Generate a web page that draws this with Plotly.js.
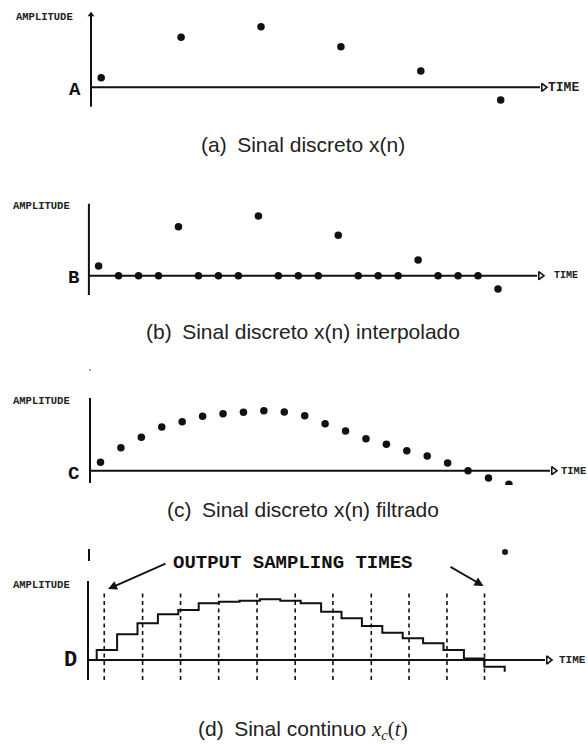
<!DOCTYPE html>
<html>
<head>
<meta charset="utf-8">
<script src="https://cdn.plot.ly/plotly-3.0.1.min.js"></script>
<style>html,body{margin:0;padding:0;background:#fff;}#chart{width:588px;height:744px;}</style>
</head>
<body>
<div id="chart"></div>
<script>
// ---- data (amplitudes in arbitrary units) ----
const aIndex = [0, 1, 2, 3, 4, 5];
const aValues = [9.6, 50, 60.6, 40.6, 16.3, -12.7];

const bIndex = [0,1,2,3,4,5,6,7,8,9,10,11,12,13,14,15,16,17,18,19,20];
const bValues = [9.7,0,0,0,49,0,0,0,59.7,0,0,0,40.4,0,0,0,15.7,0,0,0,-13.3];

const cIndex = [0,1,2,3,4,5,6,7,8,9,10,11,12,13,14,15,16,17,18,19,20];
const cValues = [8.4, 23, 33.4, 43.7, 49, 54.4, 57, 58.4, 60, 58.7, 55, 47, 39.7, 32, 26.4, 20, 14.7, 7.7, 0, -7.3, -13.5];

const dStepStart = [0,1,2,3,4,5,6,7,8,9,10,11,12,13,14,15,16,17,18,19,20];
const dSteps = [10, 25.7, 36.7, 45.7, 50, 56.7, 58.3, 59.3, 60.7, 59.3, 56.7, 48.3, 41.7, 34, 27.3, 21.7, 16.7, 10, 1.5, -6.7, -11.7];
const outputTimes = [0.37, 2.25, 4.11, 5.98, 7.86, 9.73, 11.58, 13.46, 15.31, 17.17, 19.01];

const captions = [
  '(a)\u2002Sinal discreto x(n)',
  '(b)\u2002Sinal discreto x(n) interpolado',
  '(c)\u2002Sinal discreto x(n) filtrado',
  '(d)\u2002Sinal continuo <span style="font-family:Liberation Serif"><i>x</i><sub><i>c</i></sub>(<i>t</i>)</span>'
];
const panelLetters = ['A', 'B', 'C', 'D'];

// ---- layout geometry (pixels) ----
const W = 588, H = 744;
const fx = px => px / W;
const fy = py => 1 - py / H;

const panels = [
  {ax:'x',  ay:'y',  axisX:91,   axisY:87.3,  top:0,   bot:120, vTop:11.7,  vBot:106.7, hEnd:540, t0:101.2, ts:79.9,
   amp:[14,16.7], letter:[75,90], letterSize:19, time:[546,87.3], timeSize:13, cap:145},
  {ax:'x2', ay:'y2', axisX:88.9, axisY:275.7, top:190, bot:305, vTop:200.7, vBot:295,   hEnd:537, t0:98.6,  ts:19.97,
   amp:[10.5,206], letter:[73,278], letterSize:19, time:[552,275.7], timeSize:10, cap:331.7},
  {ax:'x3', ay:'y3', axisX:90,   axisY:470.7, top:385, bot:485, vTop:395,   vBot:483,   hEnd:550, t0:100.5, ts:20.42,
   amp:[11,400.7], letter:[73,474], letterSize:19, time:[559,470.7], timeSize:10.5, cap:510},
  {ax:'x4', ay:'y4', axisX:88,   axisY:660,   top:540, bot:700, vTop:578,   vBot:680,   hEnd:545, t0:96.7,  ts:20.4,
   amp:[11,585], letter:[70,660], letterSize:22, time:[557,660], timeSize:11, cap:730}
];

const ink = '#111';
const traces = [];
const shapes = [];
const annotations = [];
const layout = {
  width: W, height: H,
  margin: {l:0, r:0, t:0, b:0},
  paper_bgcolor: '#fff', plot_bgcolor: 'rgba(0,0,0,0)',
  showlegend: false,
  font: {family: 'Liberation Sans', color: ink}
};

panels.forEach((p, i) => {
  const xn = i === 0 ? 'xaxis' : 'xaxis' + (i + 1);
  const yn = i === 0 ? 'yaxis' : 'yaxis' + (i + 1);
  layout[xn] = {visible:false, domain:[0,1], range:[(0 - p.t0) / p.ts, (W - p.t0) / p.ts], anchor:p.ay, fixedrange:true};
  layout[yn] = {visible:false, domain:[fy(p.bot), fy(p.top)], range:[-(p.bot - p.axisY), p.axisY - p.top], anchor:p.ax, fixedrange:true};

  // horizontal time axis at amplitude 0
  shapes.push({type:'line', xref:'paper', yref:p.ay, x0:fx(p.axisX), x1:fx(p.hEnd), y0:0, y1:0, line:{color:ink, width:2}});
  // vertical amplitude axis
  shapes.push({type:'line', xref:'paper', yref:'paper', x0:fx(p.axisX), x1:fx(p.axisX), y0:fy(p.vBot), y1:fy(p.vTop + 3), line:{color:ink, width:2}});
  // arrowheads
  traces.push({type:'scatter', mode:'markers', xaxis:p.ax, yaxis:p.ay, cliponaxis:false, hoverinfo:'skip',
    x:[(p.hEnd + 3.5 - p.t0) / p.ts], y:[0],
    marker:{symbol:'triangle-right-open', size:7, color:ink, line:{width:1.6, color:ink}}});
  traces.push({type:'scatter', mode:'markers', xaxis:'x', yaxis:'y', cliponaxis:false, hoverinfo:'skip',
    x:[(p.axisX - 101.2) / 79.9], y:[87.3 - (p.vTop + 3)],
    marker:{symbol:'triangle-up', size:6, color:ink}});

  annotations.push({xref:'paper', yref:'paper', x:fx(p.amp[0]), y:fy(p.amp[1]), xanchor:'left', yanchor:'middle', showarrow:false,
    text:'AMPLITUDE', font:{family:'Liberation Mono', size:10.5, color:'#222', weight:'bold'}});
  annotations.push({xref:'paper', yref:'paper', x:fx(p.letter[0]), y:fy(p.letter[1]), xanchor:'center', yanchor:'middle', showarrow:false,
    text:'<b>' + panelLetters[i] + '</b>', font:{family:'Liberation Mono', size:p.letterSize, color:ink}});
  annotations.push({xref:'paper', yref:'paper', x:fx(p.time[0]), y:fy(p.time[1]), xanchor:'left', yanchor:'middle', showarrow:false,
    text:'<b>TIME</b>', font:{family:'Liberation Mono', size:p.timeSize, color:'#222'}});
  annotations.push({xref:'paper', yref:'paper', x:fx(303), y:fy(p.cap), xanchor:'center', yanchor:'middle', showarrow:false,
    text:captions[i], font:{family:'Liberation Sans', size:21, color:'#222'}});
});

// samples
const dot = {color:ink, size:7.5};
traces.push({type:'scatter', mode:'markers', xaxis:'x',  yaxis:'y',  x:aIndex, y:aValues, marker:dot, hoverinfo:'skip'});
traces.push({type:'scatter', mode:'markers', xaxis:'x2', yaxis:'y2', x:bIndex, y:bValues, marker:dot, hoverinfo:'skip'});
traces.push({type:'scatter', mode:'markers', xaxis:'x3', yaxis:'y3', x:cIndex, y:cValues, marker:dot, hoverinfo:'skip', cliponaxis:true});

// zero-order-hold staircase
traces.push({type:'scatter', mode:'lines', xaxis:'x4', yaxis:'y4', hoverinfo:'skip',
  x:[dStepStart[0]].concat(dStepStart), y:[0].concat(dSteps),
  line:{shape:'hv', color:ink, width:2}});

// output sampling times (dashed verticals)
outputTimes.forEach(t => {
  shapes.push({type:'line', xref:'x4', yref:'y4', x0:t, x1:t, y0:-20, y1:67, line:{color:ink, width:1.6, dash:'4px,3.5px'}});
});

// OUTPUT SAMPLING TIMES label and its arrows
annotations.push({xref:'paper', yref:'paper', x:fx(292), y:fy(563), xanchor:'center', yanchor:'middle', showarrow:false,
  text:'<b>OUTPUT SAMPLING TIMES</b>', font:{family:'Liberation Mono', size:19, color:ink}});
annotations.push({xref:'paper', yref:'paper', x:fx(108), y:fy(589), text:'', showarrow:true, axref:'pixel', ayref:'pixel',
  ax:59, ay:-26, arrowhead:2, arrowsize:1, arrowwidth:1.8, arrowcolor:ink, standoff:0});
annotations.push({xref:'paper', yref:'paper', x:fx(483.5), y:fy(586), text:'', showarrow:true, axref:'pixel', ayref:'pixel',
  ax:-34.5, ay:-20, arrowhead:2, arrowsize:1, arrowwidth:1.8, arrowcolor:ink, standoff:0});

// scan remnants
shapes.push({type:'line', xref:'paper', yref:'paper', x0:fx(89), x1:fx(89), y0:fy(561), y1:fy(549), line:{color:ink, width:2}});
shapes.push({type:'circle', xref:'paper', yref:'paper', x0:fx(502), x1:fx(508), y0:fy(555), y1:fy(549), fillcolor:ink, line:{width:0}});
shapes.push({type:'line', xref:'paper', yref:'paper', x0:fx(89), x1:fx(91), y0:fy(370), y1:fy(370), line:{color:'#555', width:1}});

layout.shapes = shapes;
layout.annotations = annotations;

Plotly.newPlot('chart', traces, layout, {staticPlot:true, displayModeBar:false});
</script>
</body>
</html>
